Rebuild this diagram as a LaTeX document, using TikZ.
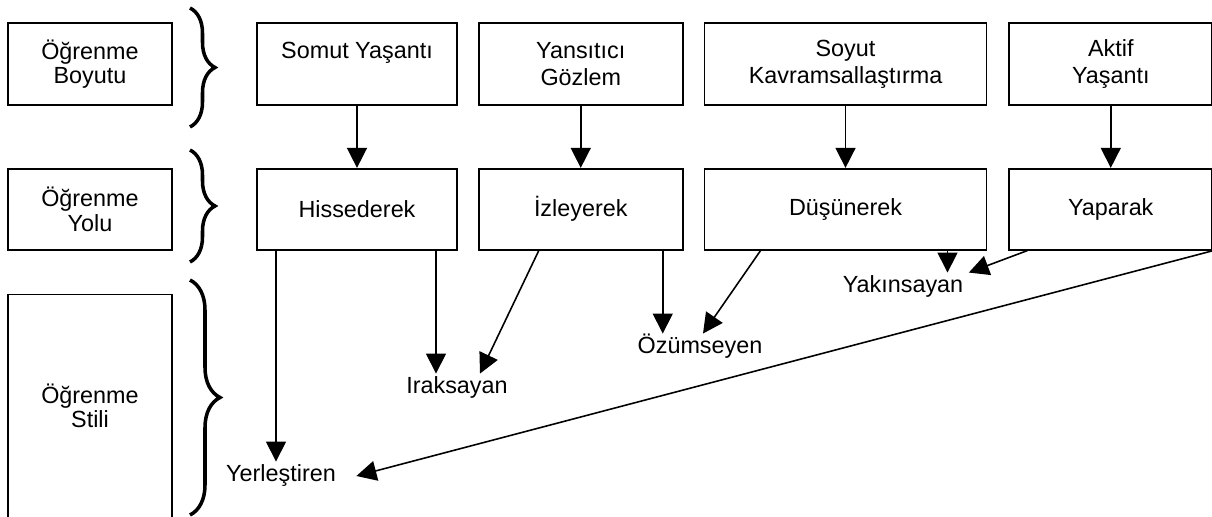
\documentclass[tikz,border=0pt]{standalone}
\usepackage{fontspec}
\setmainfont{Liberation Sans}
\usetikzlibrary{arrows.meta,positioning,decorations.pathreplacing}
\begin{document}
\begin{tikzpicture}[>={Triangle[length=0.4cm,width=0.4cm]},
	kutu/.style={draw,line width=1pt,align=center,inner sep=2pt,minimum height=1.64cm,font=\fontsize{13.3}{15.5}\selectfont},
	sol/.style={kutu,minimum width=3.28cm,font=\fontsize{13.3}{13.8}\selectfont},
	etiket/.style={inner sep=3pt,text height=1.5ex,text depth=0.4ex,font=\fontsize{13.3}{15.5}\selectfont},
	ok/.style={->,line width=0.9pt},
	parantez/.style={decorate,decoration={brace,amplitude=#1},line width=2pt}]
	\useasboundingbox (0,0) rectangle (24.24,-10.34);
	% sol kutular
	\node[sol] (boyut) at (1.80,-1.28) {Öğrenme\\Boyutu};
	\node[sol,minimum height=1.62cm,below=1.24cm of boyut] (yol) {Öğrenme\\Yolu};
	\node[sol,minimum height=4.46cm,below=0.86cm of yol] (stil) {Öğrenme\\Stili};
	\draw[parantez=0.5cm] (3.80,-0.16)--(3.80,-2.54);
	\draw[parantez=0.5cm] (3.80,-3.00)--(3.80,-5.24);
	\draw[parantez=0.6cm] (3.80,-5.60)--(3.80,-10.30);
	% boyutlar ve yollar
	\node[kutu,minimum width=4.00cm] (somut) at (7.14,-1.28) {Somut Yaşantı\\\mbox{}};
	\node[kutu,minimum width=4.08cm,right=0.4cm of somut] (yansi) {Yansıtıcı\\Gözlem};
	\node[kutu,minimum width=5.64cm,right=0.4cm of yansi] (soyut) {Soyut\\Kavramsallaştırma};
	\node[kutu,minimum width=4.06cm,right=0.42cm of soyut] (aktif) {Aktif\\Yaşantı};
	\node[kutu,minimum width=4.00cm,minimum height=1.62cm,below=1.24cm of somut] (hiss) {Hissederek};
	\node[kutu,minimum width=4.08cm,minimum height=1.62cm,below=1.24cm of yansi] (izle) {İzleyerek};
	\node[kutu,minimum width=5.64cm,minimum height=1.62cm,below=1.24cm of soyut] (dusun) {Düşünerek};
	\node[kutu,minimum width=4.06cm,minimum height=1.62cm,below=1.24cm of aktif] (yapar) {Yaparak};
	\foreach \a/\b in {somut/hiss,yansi/izle,soyut/dusun,aktif/yapar}
		\draw[ok] (\a)--(\b);
	% stiller
	\node[etiket] (yerl) at (5.62,-9.52) {Yerleştiren};
	\node[etiket] (irak) at (9.14,-7.76) {Iraksayan};
	\node[etiket] (ozum) at (14.00,-6.96) {Özümseyen};
	\node[etiket] (yakin) at (18.06,-5.74) {Yakınsayan};
	\coordinate (h1) at ([xshift=-1.62cm]hiss.south);
	\coordinate (h2) at ([xshift=1.58cm]hiss.south);
	\coordinate (i1) at ([xshift=-0.84cm]izle.south);
	\coordinate (i2) at ([xshift=1.64cm]izle.south);
	\coordinate (d1) at ([xshift=-1.70cm]dusun.south);
	\coordinate (d2) at ([xshift=2.04cm]dusun.south);
	\coordinate (y1) at ([xshift=-1.67cm]yapar.south);
	\draw[ok] (h1)--(h1 |- yerl.north);
	\draw[ok] (h2)--(h2 |- irak.north);
	\draw[ok] (i1)--([xshift=0.46cm]irak.north);
	\draw[ok] (i2)--(i2 |- ozum.north);
	\draw[ok] (d1)--([xshift=0.06cm]ozum.north);
	\draw[ok] (d2)--(d2 |- yakin.north);
	\draw[ok] (y1)--(yakin.north east);
	\draw[ok] (yapar.south east)--([xshift=0.3cm]yerl.east);
\end{tikzpicture}
\end{document}
